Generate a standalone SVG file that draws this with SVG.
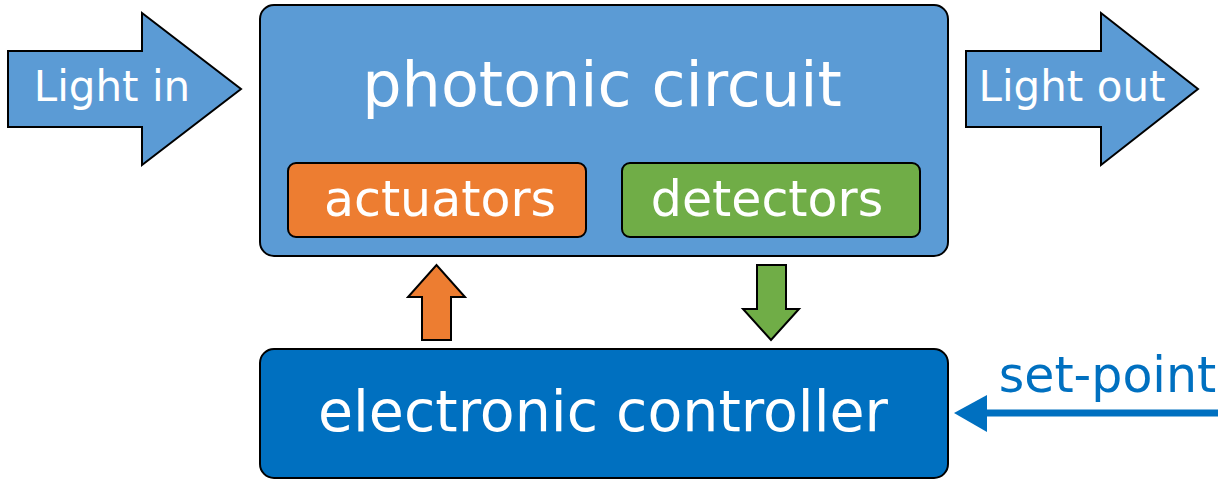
<svg xmlns="http://www.w3.org/2000/svg" width="1231" height="479" viewBox="0 0 1231 479">
<defs>
<style>
.t{font-family:"DejaVu Sans","Verdana",sans-serif;fill:#fff;text-anchor:middle}
.s{stroke:#000;stroke-width:2;stroke-linejoin:miter}
</style>
</defs>
<rect width="1231" height="479" fill="#fff"/>
<g id="light-in">
<path class="s" d="M8,51 H142 V13 L241,89 L142,165 V127 H8 Z" fill="#5B9BD5"/>
<text class="t" x="112" y="101" font-size="42">Light in</text>
</g>
<g id="light-out">
<path class="s" d="M966,51 H1101 V13 L1198,89 L1101,165 V127 H966 Z" fill="#5B9BD5"/>
<text class="t" x="1072" y="101" font-size="42">Light out</text>
</g>
<g id="photonic-circuit">
<rect class="s" x="260" y="5" width="688" height="251" rx="14" fill="#5B9BD5"/>
<text class="t" x="602" y="106" font-size="62">photonic circuit</text>
</g>
<g id="actuators">
<rect class="s" x="288" y="163" width="298" height="74" rx="8" fill="#ED7D31"/>
<text class="t" x="440" y="216" font-size="49">actuators</text>
</g>
<g id="detectors">
<rect class="s" x="622" y="163" width="298" height="74" rx="8" fill="#70AD47"/>
<text class="t" x="767" y="216" font-size="49">detectors</text>
</g>
<g id="electronic-controller">
<rect class="s" x="260" y="349" width="688" height="129" rx="14" fill="#0070C0"/>
<text class="t" x="603" y="431" font-size="57">electronic controller</text>
</g>
<g id="connectors">
<path class="s" d="M422,340 V297 H408 L436.5,265 L465,297 H451 V340 Z" fill="#ED7D31"/>
<path class="s" d="M757,265 H786 V309 H799 L771,340 L743,309 H757 Z" fill="#70AD47"/>
<line x1="1218" y1="413" x2="985" y2="413" stroke="#0070C0" stroke-width="7"/>
<path d="M954,413 L987,395 L987,432 Z" fill="#0070C0"/>
<text x="1107.5" y="392" font-size="49" font-family="DejaVu Sans, Verdana, sans-serif" fill="#0070C0" text-anchor="middle">set-point</text>
</g>
</svg>
